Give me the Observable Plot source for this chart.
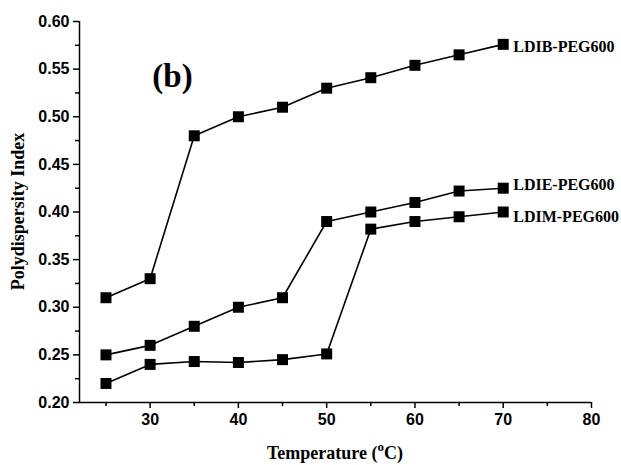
<!DOCTYPE html>
<html>
<head>
<meta charset="utf-8">
<script src="https://cdn.jsdelivr.net/npm/d3@7"></script>
<script src="https://cdn.jsdelivr.net/npm/@observablehq/plot@0.6"></script>
<style>
  html, body { margin: 0; padding: 0; background: #fff; }
  #chart svg { display: block; }
  #chart svg text { font-weight: bold; }
</style>
</head>
<body>
<div id="chart"></div>
<script>
const temps = [25, 30, 35, 40, 45, 50, 55, 60, 65, 70];
const ldib = [0.31, 0.33, 0.48, 0.50, 0.51, 0.53, 0.541, 0.554, 0.565, 0.576];
const ldie = [0.25, 0.26, 0.28, 0.30, 0.31, 0.39, 0.40, 0.41, 0.422, 0.425];
const ldim = [0.22, 0.24, 0.243, 0.242, 0.245, 0.251, 0.382, 0.39, 0.395, 0.40];
const seriesNames = ["LDIB-PEG600", "LDIE-PEG600", "LDIM-PEG600"];
const seriesValues = [ldib, ldie, ldim];
const labelDy = [3, -3, 5];
const xDomain = [22, 80];
const yDomain = [0.20, 0.60];
const xMajor = [30, 40, 50, 60, 70, 80];
const xMinor = [25, 35, 45, 55, 65, 75];
const yMajor = [0.20, 0.25, 0.30, 0.35, 0.40, 0.45, 0.50, 0.55, 0.60];
const yMinor = [0.225, 0.275, 0.325, 0.375, 0.425, 0.475, 0.525, 0.575];
const panelLabel = "(b)";
const yTitle = "Polydispersity Index";

const rows = seriesNames.flatMap((s, i) => temps.map((t, j) => ({series: s, t, v: seriesValues[i][j]})));
const lastRows = seriesNames.map((s, i) => ({series: s, t: temps[temps.length - 1], v: seriesValues[i][temps.length - 1]}));

const W = 621, H = 465;
const serif = "'Liberation Serif', 'Times New Roman', serif";
const sans = "'Liberation Sans', Arial, sans-serif";

const plot = Plot.plot({
  width: W,
  height: H,
  marginLeft: 79,
  marginRight: 30,
  marginTop: 21,
  marginBottom: 63,
  style: {fontFamily: sans, fontSize: "16px", fontWeight: "bold", color: "#000", background: "#fff"},
  x: {domain: xDomain},
  y: {domain: yDomain},
  marks: [
    Plot.axisX({ticks: xMajor, tickSize: 6, tickPadding: 5, tickFormat: d => d, label: null, fontWeight: "bold", fontSize: 16, strokeWidth: 1.5}),
    Plot.axisX({ticks: xMinor, tickSize: 4, tickFormat: () => "", label: null, strokeWidth: 1.5}),
    Plot.axisY({ticks: yMajor, tickSize: 6, tickPadding: 4, tickFormat: d3.format(".2f"), label: null, fontWeight: "bold", fontSize: 16, strokeWidth: 1.5}),
    Plot.axisY({ticks: yMinor, tickSize: 4, tickFormat: () => "", label: null, strokeWidth: 1.5}),
    Plot.ruleX([xDomain[0]], {stroke: "#000", strokeWidth: 1.5}),
    Plot.ruleY([yDomain[0]], {stroke: "#000", strokeWidth: 1.5}),
    Plot.line(rows, {x: "t", y: "v", z: "series", stroke: "#000", strokeWidth: 1.6}),
    Plot.dot(rows, {x: "t", y: "v", symbol: "square", r: 6.2, fill: "#000", stroke: "none"}),
    ...lastRows.map((r, i) => Plot.text([r], {x: "t", y: "v", text: "series", dx: 10, dy: labelDy[i], textAnchor: "start", fontFamily: serif, fontWeight: "bold", fontSize: 16, fill: "#000"})),
    Plot.text([panelLabel], {frameAnchor: "top-left", text: d => d, dx: 93, dy: 55, lineAnchor: "middle", textAnchor: "middle", fontFamily: serif, fontWeight: "bold", fontSize: 33, fill: "#000"})
  ]
});

document.getElementById("chart").appendChild(plot);

const svg = d3.select(plot);
const xs = plot.scale("x"), ys = plot.scale("y");
const xc = (xs.range[0] + xs.range[1]) / 2;
const yc = (ys.range[0] + ys.range[1]) / 2;

const xt = svg.append("text")
  .attr("x", xc).attr("y", 459)
  .attr("text-anchor", "middle")
  .attr("font-family", serif).attr("font-weight", "bold").attr("font-size", 18).attr("fill", "#000");
xt.append("tspan").text("Temperature (");
xt.append("tspan").attr("font-size", 13).attr("dy", -8).text("o");
xt.append("tspan").attr("dy", 8).text("C)");

svg.append("text")
  .attr("transform", `translate(24,${yc}) rotate(-90)`)
  .attr("text-anchor", "middle")
  .attr("font-family", serif).attr("font-weight", "bold").attr("font-size", 18).attr("fill", "#000")
  .text(yTitle);
</script>
</body>
</html>
